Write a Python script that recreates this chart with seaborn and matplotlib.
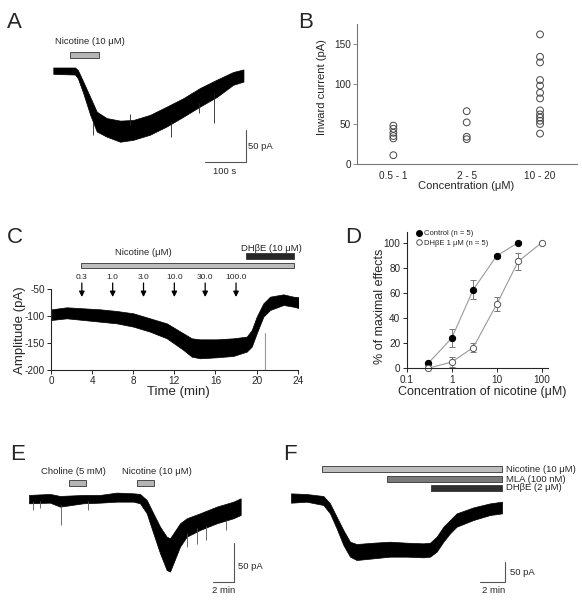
import numpy as np
import pandas as pd
import matplotlib
matplotlib.use("Agg")
import matplotlib.pyplot as plt
import seaborn as sns
from matplotlib.lines import Line2D
from matplotlib.ticker import NullLocator

# ---- Panel A: nicotine 10 uM response (s, pA), upper/lower edge of the noisy trace
a_time = [0, 53, 60, 73, 90, 106, 130, 163, 195, 236, 277, 317, 358, 399, 439, 464]
a_hi = [5, 5, 1, -17, -41, -64, -74, -78, -77, -69, -56, -43, -27, -14, -2, 2]
a_lo = [-5, -6, -12, -35, -69, -95, -103, -111, -108, -100, -87, -72, -56, -41, -22, -17]
a_spike_t = [98, 187, 287, 356, 393]
a_spike_top = [-80, -68, -80, -50, -35]
a_spike_bot = [-100, -85, -104, -66, -82]
a_drug = (41, 112)

# ---- Panel B: inward current per concentration group
b_groups = ["0.5 - 1", "2 - 5", "10 - 20"]
b_low = [48, 44, 39, 35, 32, 11]
b_mid = [66, 52, 34, 31]
b_high = [162, 134, 127, 105, 98, 89, 82, 67, 62, 58, 54, 50, 38]

# ---- Panel C: cumulative nicotine doses (min, pA)
c_time = [0.06, 1.52, 4.77, 6.39, 8.01, 9.63, 11.26, 12.88, 13.69, 14.50,
          16.12, 17.74, 19.04, 19.53, 20.01, 20.66, 21.31, 22.61, 23.58, 24.23]
c_hi = [-87.6, -83.9, -87.6, -90.7, -95.0, -104.3, -113.6, -132.1, -141.3, -143.2,
        -143.2, -141.3, -138.2, -125.9, -101.2, -76.5, -64.2, -59.9, -64.2, -65.4]
c_lo = [-107.4, -104.3, -110.5, -113.6, -119.7, -129.0, -141.3, -162.9, -175.3, -178.3,
        -176.5, -174.0, -166.0, -156.7, -132.1, -101.2, -88.9, -79.6, -82.7, -85.8]
c_dose_labels = ["0.3", "1.0", "3.0", "10.0", "30.0", "100.0"]
c_dose_times = [3, 6, 9, 12, 15, 18]
c_nic = (2.89, 23.6)
c_dhbe = (19.0, 23.6)
c_marker_t = 20.8

# ---- Panel D: concentration-response
d_conc_ctrl = [0.3, 1, 3, 10, 30]
d_ctrl = [4, 24, 62.5, 89.5, 100]
d_ctrl_err = [1, 7, 7.5, 1.5, 1]
d_conc_dhbe = [0.3, 1, 3, 10, 30, 100]
d_dhbe = [0, 5, 16.5, 51, 85, 100]
d_dhbe_err = [0.5, 4, 3.5, 5.5, 6.5, 0.5]

# ---- Panel E: choline vs nicotine (min, pA)
e_time = [0, 2.0, 2.95, 5.17, 6.76, 8.35, 9.94, 10.57, 11.21, 11.84,
          12.48, 13.11, 13.43, 13.75, 14.38, 15.02, 16.29, 17.87, 19.46, 20.16]
e_hi = [4.3, 5.6, 3.0, 4.3, 4.3, 7.3, 6.4, 5.6, -2.1, -19.2,
        -36.3, -49.2, -51.3, -44.9, -32.1, -25.6, -19.2, -10.7, -4.3, 0]
e_lo = [-6.4, -5.6, -10.7, -6.4, -5.6, -4.3, -4.3, -6.4, -19.2, -44.9,
        -70.5, -91.9, -94.0, -83.3, -62.0, -49.2, -40.6, -32.1, -25.6, -21.4]
e_spike_t = [0.41, 1.05, 3.05, 5.65, 15.0, 15.97, 16.9, 18.8]
e_spike_top = [-4, -4, -8, -4, -45, -38, -36, -28]
e_spike_bot = [-15, -13, -34, -15, -62, -58, -53, -41]
e_choline = (3.81, 5.40)
e_nicotine = (10.32, 11.90)

# ---- Panel F: nicotine, then MLA, then DHbE (min, pA)
f_time = [0, 1.25, 2.59, 3.12, 3.65, 4.19, 4.72, 5.25, 6.59, 7.92,
          9.25, 10.59, 11.12, 11.65, 12.19, 12.72, 13.25, 14.59, 15.92, 16.88]
f_hi = [10.8, 9.2, 4.2, -14.2, -47.5, -80.8, -110, -115.8, -112.5, -110,
        -112.5, -114.1, -112.5, -97.5, -72.5, -55.8, -39.2, -24.2, -14.2, -10]
f_lo = [-12.5, -10, -18.3, -39.2, -76.6, -118.3, -147.4, -155.8, -151.6, -147.4,
        -147.4, -149.1, -147.4, -134.9, -110, -89.1, -72.5, -55.8, -43.3, -39.2]
f_drugs = ["Nicotine (10 μM)", "MLA (100 nM)", "DHβE (2 μM)"]
f_start = [2.45, 7.71, 11.17]
f_stop = [16.88, 16.88, 16.88]
f_colors = ["#bdbdbd", "#7a7a7a", "#2e2e2e"]

sns.set_style("ticks")
plt.rcParams['font.family'] = ['Liberation Sans', 'DejaVu Sans']
plt.rcParams['axes.unicode_minus'] = False

W, H = 582, 600
fig = plt.figure(figsize=(W / 100, H / 100), dpi=100)


def px_axes(left, top, right, bottom):
    return fig.add_axes([left / W, 1 - bottom / H, (right - left) / W, (bottom - top) / H])


def ptext(x, y, s, **kw):
    fig.text(x / W, 1 - y / H, s, **kw)


def trace_axes(box, x0, y0, xs, ys):
    # box in pixels, (x0, y0) pixel of the data origin, xs/ys data units per pixel
    l, t, r, b = box
    ax = px_axes(l, t, r, b)
    ax.set_xlim((l - x0) * xs, (r - x0) * xs)
    ax.set_ylim((y0 - b) * ys, (y0 - t) * ys)
    ax.axis('off')
    return ax


def drug_bar(ax, start, stop, lo, hi, color):
    ax.barh((lo + hi) / 2, stop - start, left=start, height=hi - lo, color=color,
            edgecolor='#333333', linewidth=0.6, clip_on=False)


def scale_bar(ax, x_end, y_base, dx, dy):
    ax.plot([x_end - dx, x_end, x_end], [y_base, y_base, y_base + dy],
            color='#555555', lw=0.8, clip_on=False)


small = 6.8

# ---------------- A
axA = trace_axes((40, 30, 280, 180), 53.3, 70.7, 2.44, 1.5625)
axA.fill_between(a_time, a_lo, a_hi, color='black', lw=0.5)
axA.vlines(a_spike_t, a_spike_bot, a_spike_top, color='#222222', lw=0.6)
drug_bar(axA, a_drug[0], a_drug[1], 19.8, 29, '#b5b5b5')
axA.text(90, 45, "Nicotine (10 μM)", ha='center', va='center', fontsize=small)
scale_bar(axA, 470, -142.7, 100, 50)
axA.text(476, -118.7, "50 pA", ha='left', va='center', fontsize=small)
axA.text(419, -157.8, "100 s", ha='center', va='center', fontsize=small)

# ---------------- B
df_b = pd.DataFrame({
    'conc': [b_groups[0]] * len(b_low) + [b_groups[1]] * len(b_mid) + [b_groups[2]] * len(b_high),
    'current': b_low + b_mid + b_high,
})
axB = px_axes(356.7, 24, 576.7, 164)
sns.scatterplot(data=df_b, x='conc', y='current', ax=axB, s=24, facecolor='none',
                edgecolor='#444444', linewidth=0.7, clip_on=False)
axB.set_xlim(-0.5, 2.5)
axB.set_ylim(0, 175)
axB.set_yticks([0, 50, 100, 150])
sns.despine(ax=axB)
for s in ['left', 'bottom']:
    axB.spines[s].set_color('#777777')
    axB.spines[s].set_linewidth(0.8)
axB.tick_params(axis='y', length=3, width=0.6, color='#777777', labelsize=7.2, pad=1)
axB.tick_params(axis='x', length=0, labelsize=7.2, pad=5)
axB.set_xlabel('')
axB.set_ylabel('')
ptext(321.7, 87, "Inward current (pA)", rotation=90, ha='center', va='center', fontsize=8)
ptext(466, 186, "Concentration (μM)", ha='center', va='center', fontsize=8)

# ---------------- C
axC = px_axes(51, 245.8, 297.7, 370)
axC.fill_between(c_time, c_lo, c_hi, color='black', lw=0.5)
axC.plot([c_marker_t, c_marker_t], [-132, -200], color='#999999', lw=0.8)
axC.set_xlim(0, 24)
axC.set_ylim(-200, 30)
sns.despine(ax=axC)
axC.spines['left'].set_bounds(-200, -50)
axC.set_xticks(range(0, 25, 4))
axC.set_yticks([-200, -150, -100, -50])
axC.tick_params(length=3, width=0.7, labelsize=7.2, pad=1.5)
drug_bar(axC, c_nic[0], c_nic[1], -11.7, -1.3, '#bdbdbd')
drug_bar(axC, c_dhbe[0], c_dhbe[1], 4.9, 16.1, '#262626')
axC.text(8.95, 16.7, "Nicotine (μM)", ha='center', va='center', fontsize=small)
axC.text(18.45, 25.9, "DHβE (10 μM)", ha='left', va='center', fontsize=small)
for lab, t in zip(c_dose_labels, c_dose_times):
    axC.text(t, -27.8, lab, ha='center', va='center', fontsize=6)
    axC.annotate('', xy=(t, -64.8), xytext=(t, -38.9), annotation_clip=False,
                 arrowprops=dict(arrowstyle='-|>', color='black', lw=0.9,
                                 mutation_scale=8, shrinkA=0, shrinkB=0))
ptext(20, 330, "Amplitude (pA)", rotation=90, ha='center', va='center', fontsize=9.5)
ptext(178, 392, "Time (min)", ha='center', va='center', fontsize=9.5)

# ---------------- D
axD = px_axes(406.7, 231.7, 548.3, 368.3)
axD.set_xscale('log')
axD.errorbar(d_conc_ctrl, d_ctrl, yerr=d_ctrl_err, fmt='none', ecolor='#777777',
             elinewidth=0.7, capsize=2, capthick=0.7)
axD.errorbar(d_conc_dhbe, d_dhbe, yerr=d_dhbe_err, fmt='none', ecolor='#777777',
             elinewidth=0.7, capsize=2, capthick=0.7)
sns.lineplot(x=d_conc_ctrl, y=d_ctrl, ax=axD, color='#9a9a9a', lw=0.8, marker='o',
             markersize=4.5, markerfacecolor='black', markeredgecolor='black', clip_on=False)
sns.lineplot(x=d_conc_dhbe, y=d_dhbe, ax=axD, color='#9a9a9a', lw=0.8, marker='o',
             markersize=4.5, markerfacecolor='white', markeredgecolor='#555555',
             markeredgewidth=0.7, clip_on=False)
axD.set_xlim(0.1, 140)
axD.set_ylim(0, 108.7)
axD.set_xticks([0.1, 1, 10, 100])
axD.set_xticklabels(['0.1', '1', '10', '100'])
axD.xaxis.set_minor_locator(NullLocator())
axD.set_yticks(range(0, 101, 20))
sns.despine(ax=axD)
axD.tick_params(length=3, width=0.7, labelsize=7.2, pad=1.5)
handles = [Line2D([], [], marker='o', ls='none', mfc='black', mec='black', ms=4),
           Line2D([], [], marker='o', ls='none', mfc='white', mec='#555555', mew=0.7, ms=4)]
axD.legend(handles, ['Control (n = 5)', 'DHβE 1 μM (n = 5)'], loc='upper left',
           bbox_to_anchor=(0.03, 1.04), fontsize=5.5, frameon=False, handletextpad=0.2,
           labelspacing=0.3, borderpad=0, handlelength=1)
ptext(380, 306.7, "% of maximal effects", rotation=90, ha='center', va='center', fontsize=9)
ptext(481.7, 391.7, "Concentration of nicotine (μM)", ha='center', va='center', fontsize=9)

# ---------------- E
axE = trace_axes((0, 430, 290, 600), 29, 498.3, 1 / 10.5, 1.282)
axE.vlines(e_spike_t, e_spike_bot, e_spike_top, color='#555555', lw=0.6)
axE.fill_between(e_time, e_lo, e_hi, color='black', lw=0.5)
drug_bar(axE, e_choline[0], e_choline[1], 15.8, 23.5, '#b5b5b5')
drug_bar(axE, e_nicotine[0], e_nicotine[1], 15.8, 23.5, '#b5b5b5')
axE.text(4.19, 34.2, "Choline (5 mM)", ha='center', va='center', fontsize=small)
axE.text(12.16, 34.2, "Nicotine (10 μM)", ha='center', va='center', fontsize=small)
scale_bar(axE, 19.56, -106.9, 2, 50)
axE.text(19.9, -87.7, "50 pA", ha='left', va='center', fontsize=small)
axE.text(18.57, -118.5, "2 min", ha='center', va='center', fontsize=small)

# ---------------- F
axF = trace_axes((290, 430, 582, 600), 291, 497.7, 1 / 12.5, 2.5)
axF.fill_between(f_time, f_lo, f_hi, color='black', lw=0.5)
bar_rows = [(64.1, 79.1), (39.2, 54.1), (17.5, 31.7)]
for name, t0, t1, col, (lo, hi) in zip(f_drugs, f_start, f_stop, f_colors, bar_rows):
    drug_bar(axF, t0, t1, lo, hi, col)
    axF.text(17.17, (lo + hi) / 2, name, ha='left', va='center', fontsize=small)
scale_bar(axF, 17.12, -210, 2, 50)
axF.text(17.52, -187.5, "50 pA", ha='left', va='center', fontsize=small)
axF.text(16.18, -232.5, "2 min", ha='center', va='center', fontsize=small)

# panel letters
for letter, x, y in [('A', 7, 28), ('B', 298, 28), ('C', 7, 243), ('D', 345, 243),
                     ('E', 10, 460), ('F', 283, 460)]:
    ptext(x, y, letter, ha='left', va='baseline', fontsize=16)

fig.savefig('out.png', dpi=100)
